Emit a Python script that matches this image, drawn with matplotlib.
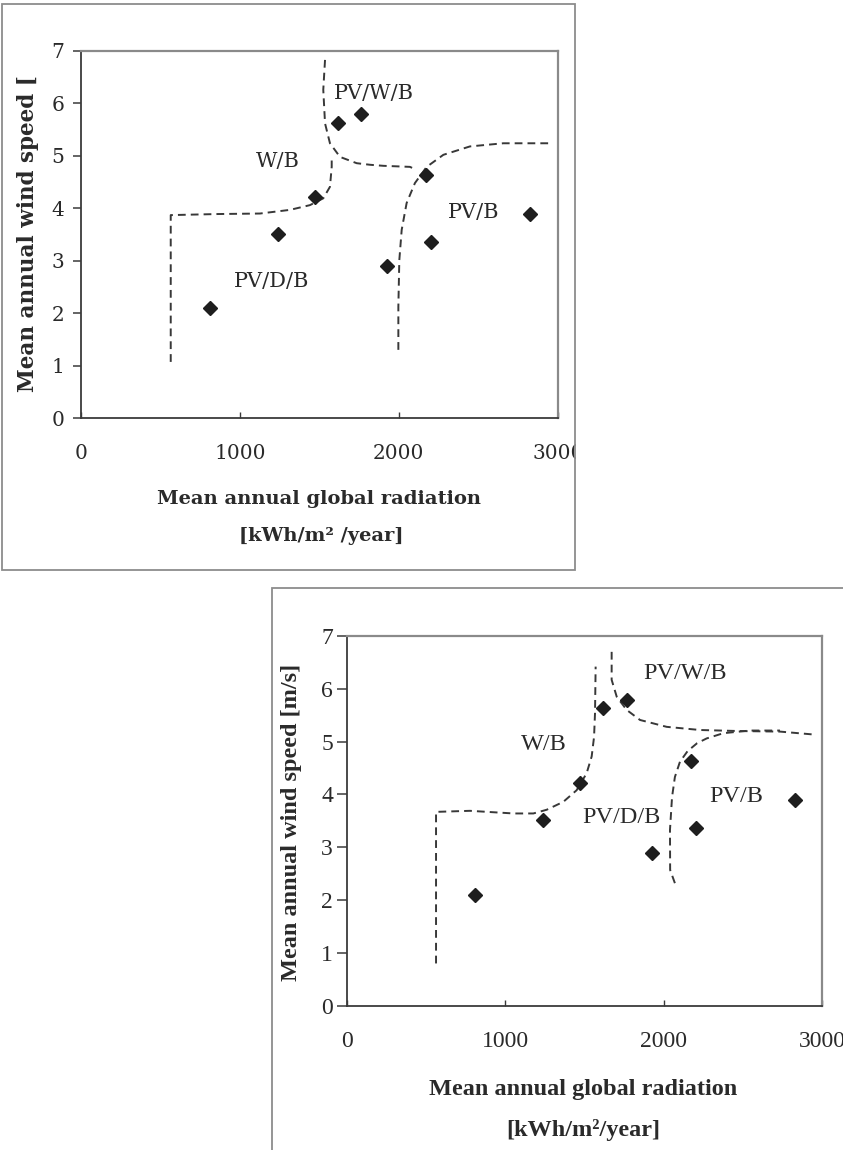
import matplotlib
matplotlib.use('Agg')
import matplotlib.pyplot as plt
from matplotlib.patches import Rectangle

W, H = 843, 1150

# data (same points in both charts)
radiation = [810, 1240, 1470, 1615, 1765, 1925, 2170, 2205, 2825]
wind_speed = [2.09, 3.51, 4.21, 5.63, 5.79, 2.90, 4.64, 3.36, 3.90]

x_ticks = [0, 1000, 2000, 3000]
y_ticks = [0, 1, 2, 3, 4, 5, 6, 7]

# boundary lines, top chart
top_wb_x = [566, 566, 855, 1127, 1316, 1441, 1525, 1567, 1578, 1578]
top_wb_y = [1.07, 3.87, 3.89, 3.90, 3.97, 4.06, 4.19, 4.41, 4.79, 4.98]
top_pvw_x = [1536, 1525, 1536, 1567, 1630, 1735, 1819, 1903, 2070, 2112]
top_pvw_y = [6.83, 6.26, 5.62, 5.24, 4.98, 4.86, 4.83, 4.81, 4.79, 4.73]
top_pvb_x = [1997, 1997, 2003, 2018, 2049, 2101, 2175, 2280, 2447, 2657, 2950]
top_pvb_y = [1.30, 2.12, 3.01, 3.59, 4.10, 4.48, 4.79, 5.02, 5.18, 5.24, 5.24]

# boundary lines, bottom chart
bot_wb_x = [563, 563, 777, 1051, 1177, 1261, 1366, 1450, 1513, 1545, 1560, 1566, 1570]
bot_wb_y = [0.80, 3.67, 3.69, 3.64, 3.64, 3.71, 3.86, 4.08, 4.40, 4.72, 5.09, 5.54, 6.42]
bot_pvw_x = [1671, 1671, 1703, 1766, 1850, 2018, 2229, 2481, 2733, 2964]
bot_pvw_y = [6.70, 6.17, 5.85, 5.60, 5.41, 5.28, 5.22, 5.20, 5.19, 5.13]
bot_pvb_x = [2070, 2040, 2039, 2052, 2070, 2102, 2150, 2210, 2270, 2376, 2544, 2733]
bot_pvb_y = [2.32, 2.57, 3.33, 3.95, 4.33, 4.62, 4.82, 4.97, 5.06, 5.16, 5.21, 5.21]

region_names = ['PV/W/B', 'W/B', 'PV/D/B', 'PV/B']
top_label_x = [1844, 1242, 1200, 2472]
top_label_y = [6.19, 4.89, 2.60, 3.92]
bot_label_x = [2135, 1244, 1734, 2456]
bot_label_y = [6.29, 4.94, 3.57, 3.96]

TXT = '#2a2a2a'


def px_box(x0, y0, x1, y1):
    # pixel box (top-left origin) -> figure fraction rect
    return [x0 / W, 1 - y1 / H, (x1 - x0) / W, (y1 - y0) / H]


def draw_panel(ax, curves, names, lx, ly, family, tick_size, label_size, ypad, xpad, ytick_len):
    ax.set_xlim(0, 3000)
    ax.set_ylim(0, 7)
    ax.set_xticks(x_ticks)
    ax.set_yticks(y_ticks)
    for cx, cy in curves:
        ax.plot(cx, cy, color='#383838', lw=1.4, dashes=(4.0, 2.6), zorder=2)
    ax.plot(radiation, wind_speed, 'D', color='#1e1e1e', ms=7.5, zorder=3)
    for s, x, y in zip(names, lx, ly):
        ax.text(x, y, s, ha='center', va='center', fontsize=label_size,
                family=family, color=TXT, zorder=4)

    for side in ['top', 'right']:
        ax.spines[side].set_color('#8a8a8a')
        ax.spines[side].set_linewidth(1.6)
    for side in ['left', 'bottom']:
        ax.spines[side].set_color('#3a3a3a')
        ax.spines[side].set_linewidth(1.3)
    ax.tick_params(axis='y', direction='out', length=ytick_len, width=1.1,
                   color='#3a3a3a', pad=ypad, labelsize=tick_size, labelcolor=TXT)
    ax.tick_params(axis='x', direction='in', length=4, width=1.0,
                   color='#3a3a3a', pad=xpad, labelsize=tick_size, labelcolor=TXT)
    for lab in ax.get_xticklabels() + ax.get_yticklabels():
        lab.set_family(family)


fig = plt.figure(figsize=(W / 100, H / 100), dpi=100)
fig.patch.set_facecolor('white')

# ---- top chart
ax1 = fig.add_axes(px_box(80.7, 51, 557.9, 418))
draw_panel(ax1, [(top_wb_x, top_wb_y), (top_pvw_x, top_pvw_y), (top_pvb_x, top_pvb_y)],
           region_names, top_label_x, top_label_y, 'DejaVu Serif', 14.5, 15, 6, 19, 6)

# cover what spills past the top frame
fig.patches.append(Rectangle((576 / W, 1 - 575 / H), (W - 576) / W, 575 / H,
                             transform=fig.transFigure, facecolor='white',
                             edgecolor='none', zorder=5))
fig.patches.append(Rectangle((2 / W, 1 - 570 / H), 573 / W, 566 / H,
                             transform=fig.transFigure, fill=False,
                             edgecolor='#8c8c8c', lw=1.3, zorder=6))

fig.text(28 / W, 1 - 234 / H, 'Mean annual wind speed [', rotation=90,
         ha='center', va='center', fontsize=15.5, fontweight='bold',
         family='DejaVu Serif', color=TXT)
fig.text(319 / W, 1 - 499 / H, 'Mean annual global radiation', ha='center',
         va='center', fontsize=14, fontweight='bold', family='DejaVu Serif', color=TXT)
fig.text(321 / W, 1 - 536 / H, '[kWh/m² /year]', ha='center',
         va='center', fontsize=14, fontweight='bold', family='DejaVu Serif', color=TXT)

# ---- bottom chart
ax2 = fig.add_axes(px_box(346.8, 636, 822.3, 1005.7))
draw_panel(ax2, [(bot_wb_x, bot_wb_y), (bot_pvw_x, bot_pvw_y), (bot_pvb_x, bot_pvb_y)],
           region_names, bot_label_x, bot_label_y, 'Liberation Serif', 17, 17.5, 3, 18, 7)

fig.patches.append(Rectangle((272 / W, -0.01), (W - 272) / W + 0.02, 1 - 588 / H + 0.01,
                             transform=fig.transFigure, fill=False,
                             edgecolor='#8c8c8c', lw=1.3, zorder=6))

fig.text(291 / W, 1 - 822 / H, 'Mean annual wind speed [m/s]', rotation=90,
         ha='center', va='center', fontsize=17.5, fontweight='bold',
         family='Liberation Serif', color=TXT)
fig.text(583 / W, 1 - 1090 / H, 'Mean annual global radiation', ha='center',
         va='center', fontsize=17.5, fontweight='bold', family='Liberation Serif', color=TXT)
fig.text(583 / W, 1 - 1130 / H, '[kWh/m²/year]', ha='center',
         va='center', fontsize=17.5, fontweight='bold', family='Liberation Serif', color=TXT)

fig.savefig('out.png', dpi=100)
